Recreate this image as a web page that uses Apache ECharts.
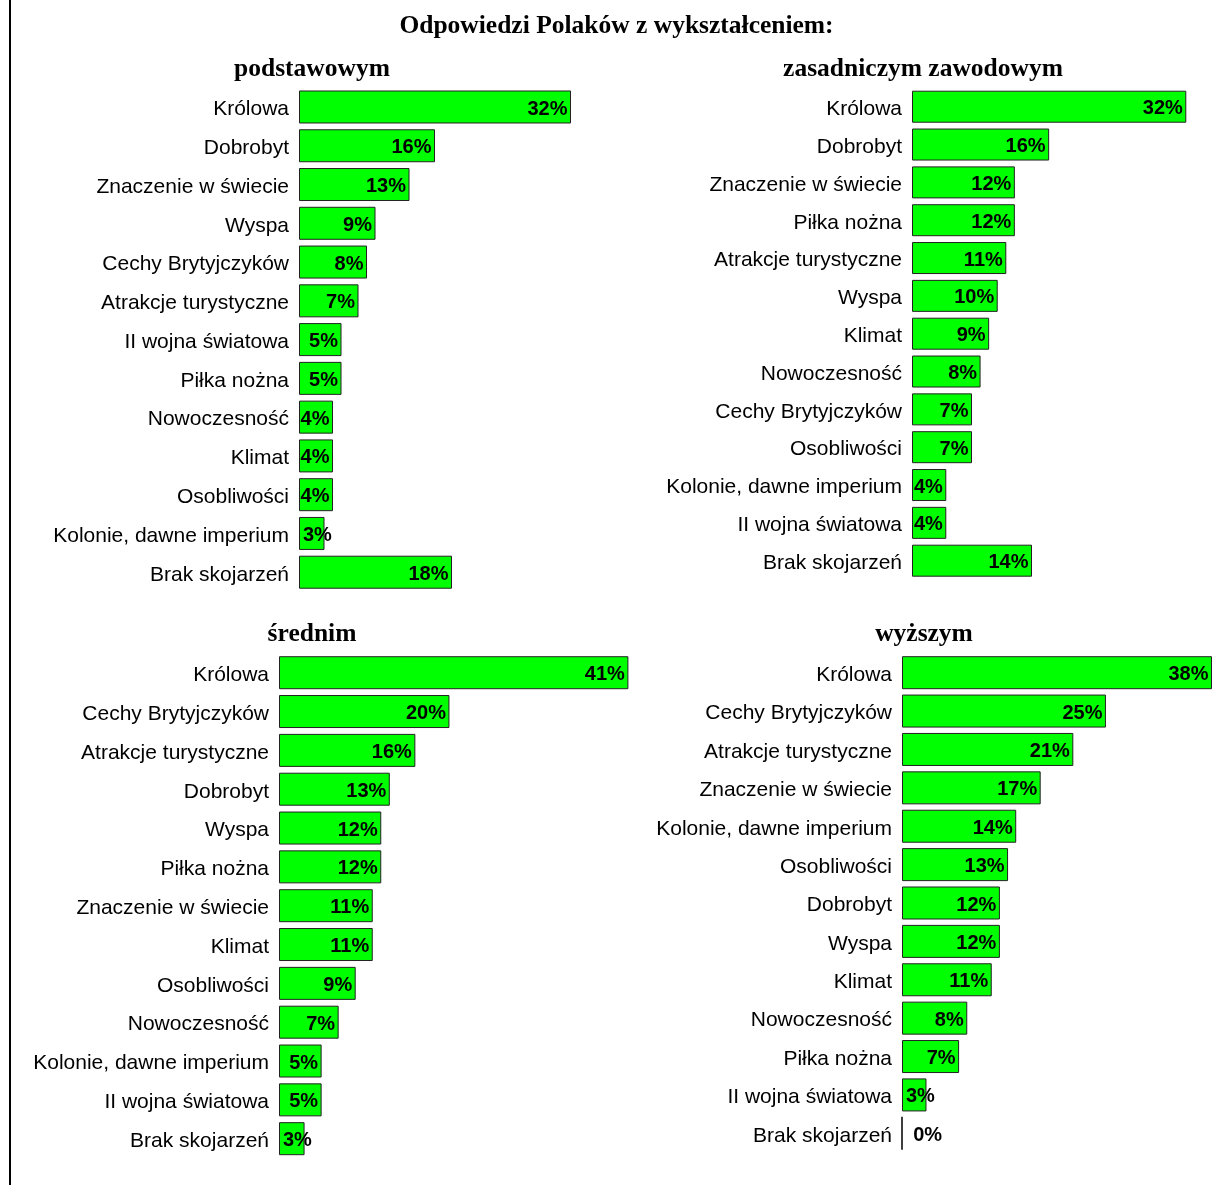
<!DOCTYPE html>
<html>
<head>
<meta charset="utf-8">
<script src="https://cdn.jsdelivr.net/npm/echarts@6/dist/echarts.min.js"></script>
<style>
html,body{margin:0;padding:0;background:#fff;}
#chart{width:1221px;height:1185px;}
</style>
</head>
<body>
<div id="chart"></div>
<script>
const mainTitle = 'Odpowiedzi Polaków z wykształceniem:';

const titleP = 'podstawowym';
const catsP = ['Królowa','Dobrobyt','Znaczenie w świecie','Wyspa','Cechy Brytyjczyków','Atrakcje turystyczne','II wojna światowa','Piłka nożna','Nowoczesność','Klimat','Osobliwości','Kolonie, dawne imperium','Brak skojarzeń'];
const valsP = [32,16,13,9,8,7,5,5,4,4,4,3,18];

const titleZ = 'zasadniczym zawodowym';
const catsZ = ['Królowa','Dobrobyt','Znaczenie w świecie','Piłka nożna','Atrakcje turystyczne','Wyspa','Klimat','Nowoczesność','Cechy Brytyjczyków','Osobliwości','Kolonie, dawne imperium','II wojna światowa','Brak skojarzeń'];
const valsZ = [32,16,12,12,11,10,9,8,7,7,4,4,14];

const titleS = 'średnim';
const catsS = ['Królowa','Cechy Brytyjczyków','Atrakcje turystyczne','Dobrobyt','Wyspa','Piłka nożna','Znaczenie w świecie','Klimat','Osobliwości','Nowoczesność','Kolonie, dawne imperium','II wojna światowa','Brak skojarzeń'];
const valsS = [41,20,16,13,12,12,11,11,9,7,5,5,3];

const titleW = 'wyższym';
const catsW = ['Królowa','Cechy Brytyjczyków','Atrakcje turystyczne','Znaczenie w świecie','Kolonie, dawne imperium','Osobliwości','Dobrobyt','Wyspa','Klimat','Nowoczesność','Piłka nożna','II wojna światowa','Brak skojarzeń'];
const valsW = [38,25,21,17,14,13,12,12,11,8,7,3,0];

const SANS = "'Liberation Sans', Arial, sans-serif";
const SERIF = "'Liberation Serif', 'Times New Roman', serif";

const panels = [
  {title: titleP, cats: catsP, vals: valsP, grid: {left: 299, top: 87.6, height: 504, width: 340}, max: 40, barW: 33, tx: 312, ty: 69},
  {title: titleZ, cats: catsZ, vals: valsZ, grid: {left: 912, top: 87.8, height: 491.8, width: 300}, max: 35, barW: 32, tx: 923, ty: 69},
  {title: titleS, cats: catsS, vals: valsS, grid: {left: 279, top: 653.3, height: 504.8, width: 349.4}, max: 41, barW: 33, tx: 312, ty: 634},
  {title: titleW, cats: catsW, vals: valsW, grid: {left: 902, top: 653.5, height: 499, width: 310}, max: 38, barW: 33, tx: 924, ty: 634}
];

const grid = [], xAxis = [], yAxis = [], series = [];
const graphics = [
  {type: 'line', shape: {x1: 10, y1: 0, x2: 10, y2: 1185}, style: {stroke: '#000', lineWidth: 2}},
  {type: 'text', x: 616.5, y: 26.5, style: {text: mainTitle, font: "bold 25.5px " + SERIF, fill: '#000', align: 'center', verticalAlign: 'middle'}}
];

panels.forEach((p, i) => {
  grid.push(Object.assign({outerBoundsMode: 'none', containLabel: false}, p.grid));
  xAxis.push({type: 'value', gridIndex: i, min: 0, max: p.max, show: false});
  yAxis.push({
    type: 'category', gridIndex: i, data: p.cats, inverse: true,
    axisLine: {show: false}, axisTick: {show: false}, splitLine: {show: false},
    axisLabel: {
      interval: 0, color: '#000', fontSize: 21, fontFamily: SANS, margin: 10,
      formatter: v => '{a|' + v + '}',
      rich: {a: {color: '#000', fontSize: 21, fontFamily: SANS, padding: [5, 0, 0, 0]}}
    }
  });
  series.push({
    type: 'bar', xAxisIndex: i, yAxisIndex: i, barWidth: p.barW,
    itemStyle: {color: '#00ff00', borderColor: '#222', borderWidth: 1},
    label: {show: true, position: 'insideRight', distance: 3.5, offset: [0, 2], formatter: '{c}%', color: '#000', fontSize: 20, fontWeight: 'bold', fontFamily: SANS},
    data: p.vals.map(v => {
      if (v === 0) return {value: v, label: {position: 'insideLeft', distance: 12}, itemStyle: {borderColor: '#000', borderWidth: 1.5}};
      if (v <= 3) return {value: v, label: {position: 'insideLeft', distance: 4}};
      return v;
    }),
    animation: false
  });
  graphics.push({type: 'text', x: p.tx, y: p.ty, style: {text: p.title, font: "bold 25.5px " + SERIF, fill: '#000', align: 'center', verticalAlign: 'middle'}});
});

const chart = echarts.init(document.getElementById('chart'));
chart.setOption({
  animation: false,
  backgroundColor: '#fff',
  grid, xAxis, yAxis, series,
  graphic: graphics
});
</script>
</body>
</html>
